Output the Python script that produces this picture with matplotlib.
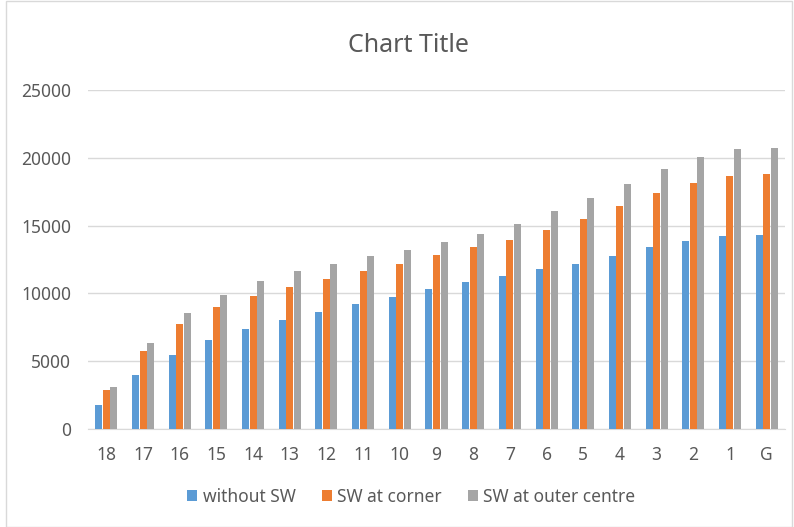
import matplotlib.pyplot as plt
import numpy as np
from matplotlib.patches import Rectangle

# floors, top to ground
floors = ["18", "17", "16", "15", "14", "13", "12", "11", "10", "9",
          "8", "7", "6", "5", "4", "3", "2", "1", "G"]
without_sw = [1800, 3980, 5480, 6590, 7370, 8010, 8600, 9240, 9710, 10300,
              10840, 11310, 11800, 12190, 12760, 13400, 13890, 14210, 14310]
sw_corner = [2880, 5770, 7740, 9020, 9790, 10490, 11090, 11630, 12190, 12830,
             13400, 13960, 14680, 15470, 16420, 17380, 18160, 18660, 18830]
sw_outer_centre = [3100, 6340, 8530, 9880, 10910, 11630, 12190, 12730, 13200, 13770,
                   14360, 15140, 16100, 17060, 18090, 19150, 20080, 20650, 20750]

series = [
    ("without SW", without_sw, "#5B9BD5"),
    ("SW at corner", sw_corner, "#ED7D31"),
    ("SW at outer centre", sw_outer_centre, "#A5A5A5"),
]

plt.rcParams["font.family"] = ["Noto Sans", "DejaVu Sans"]
text_col = "#595959"

fig = plt.figure(figsize=(7.94, 5.27), dpi=100)
ax = fig.add_axes([88 / 794, 98 / 527, 697 / 794, 339 / 527])

x = np.arange(len(floors))
w = 0.19
for k, (name, vals, col) in enumerate(series):
    ax.bar(x + (k - 1) * 0.205, vals, width=w, color=col, label=name, zorder=3)

ax.set_xlim(-0.5, len(floors) - 0.5)
ax.set_ylim(0, 25000)
ax.set_yticks(range(0, 25001, 5000))
ax.set_xticks(x)
ax.set_xticklabels(floors)
ax.yaxis.grid(True, color="#D9D9D9", linewidth=1, zorder=0)
for s in ["top", "right", "left"]:
    ax.spines[s].set_visible(False)
ax.spines["bottom"].set_color("#D9D9D9")
ax.tick_params(axis="both", length=0, labelsize=12.5, colors=text_col)
ax.tick_params(axis="y", pad=12)
ax.tick_params(axis="x", pad=12)

fig.text(0.515, 0.913, "Chart Title", ha="center", va="center",
         fontsize=18, color=text_col)

leg = fig.legend(loc="center", bbox_to_anchor=(0.518, 0.057), ncol=3, frameon=False,
                 fontsize=12.5, handlelength=0.6, handleheight=0.6,
                 handletextpad=0.3, columnspacing=1.5)
for t in leg.get_texts():
    t.set_color(text_col)

fig.patches.append(Rectangle((0.008, 0.0), 0.99, 0.998, transform=fig.transFigure,
                             fill=False, edgecolor="#D9D9D9", linewidth=1))

fig.savefig("out.png", dpi=100, facecolor="white")
